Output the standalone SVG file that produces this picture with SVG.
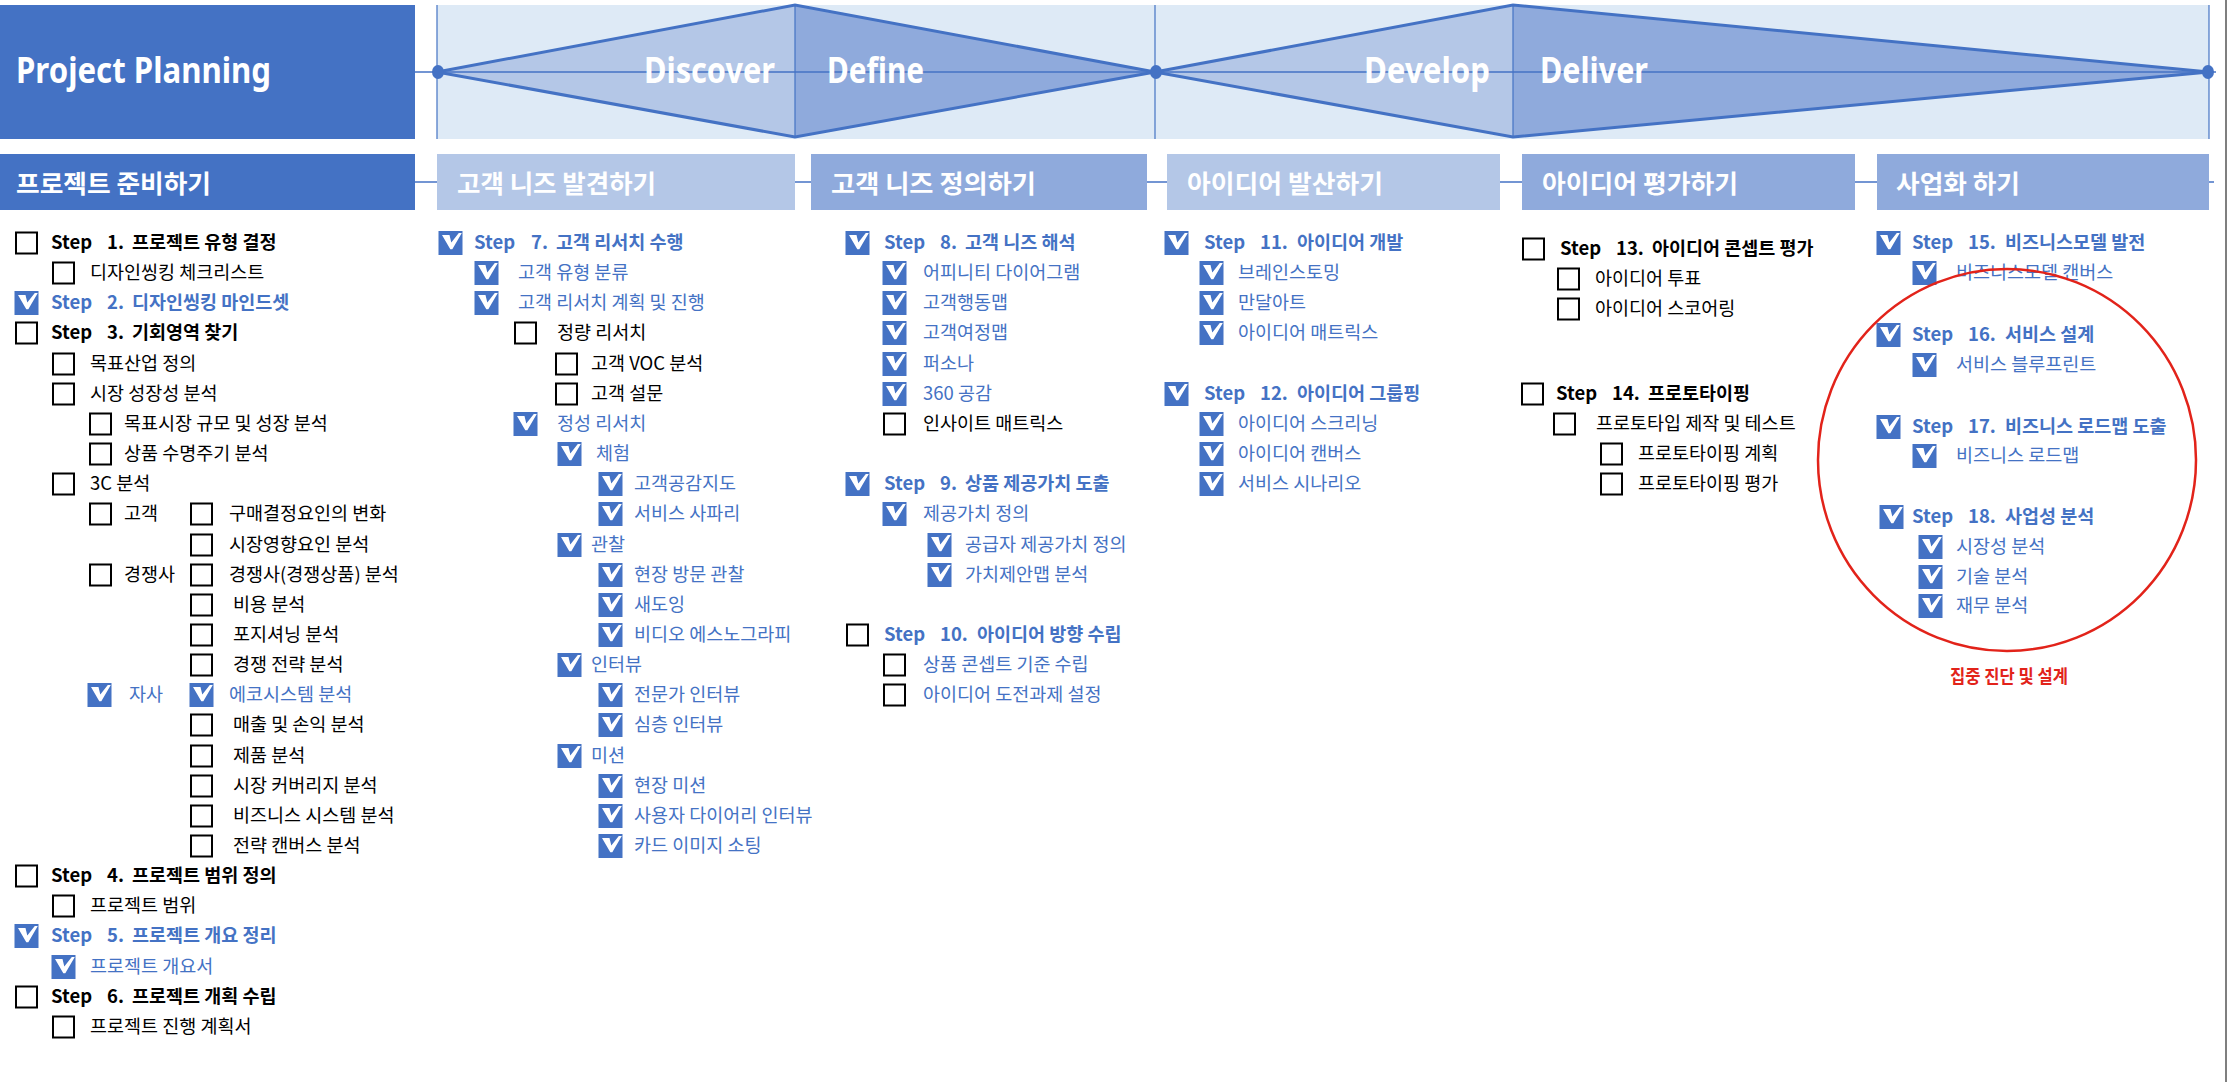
<svg xmlns="http://www.w3.org/2000/svg" xmlns:xlink="http://www.w3.org/1999/xlink" width="2238" height="1082" viewBox="0 0 2238 1082">
<style>
.t{font-family:"Noto Sans CJK KR","Noto Sans",sans-serif;font-size:18.5px;fill:#000}
.b{font-weight:700}
.bl{fill:#4472C4}
.hd{font-family:"Noto Sans CJK KR","Noto Sans",sans-serif;font-size:25px;font-weight:700;fill:#fff}
.ph{font-family:"Noto Sans","Noto Sans CJK KR",sans-serif;font-size:35px;font-weight:700;fill:#fff}
.ln{stroke:#4472C4;fill:none}
</style>
<defs>
<g id="ck"><rect x="-0.5" y="-0.5" width="24" height="24" fill="#4472C4"/><polygon points="3,3.5 10.5,3.5 12.3,11 19.8,1.5 22.8,1.5 13.3,17.8 11.3,17.8" fill="#fff"/></g>
<g id="cb"><rect x="1" y="1" width="21" height="21" fill="#fff" stroke="#000" stroke-width="2"/></g>
</defs>
<rect width="2238" height="1082" fill="#fff"/>
<line x1="2226" y1="0" x2="2226" y2="1082" stroke="#7f7f7f" stroke-width="2"/>

<g id="banner">
<rect x="437" y="5" width="1772" height="134" fill="#DEEAF6"/>
<polygon points="437,72 795,5 795,137" fill="#B4C7E7"/>
<polygon points="795,5 1155,72 795,137" fill="#8FAADC"/>
<polygon points="1155,72 1513,5 1513,137" fill="#B4C7E7"/>
<polygon points="1513,5 2209,72 1513,137" fill="#8FAADC"/>
<line class="ln" x1="437" y1="5" x2="437" y2="139" stroke-width="1.2"/>
<line class="ln" x1="795" y1="5" x2="795" y2="137" stroke-width="1.2"/>
<line class="ln" x1="1155" y1="5" x2="1155" y2="139" stroke-width="1.2"/>
<line class="ln" x1="1513" y1="5" x2="1513" y2="137" stroke-width="1.2"/>
<line class="ln" x1="2209" y1="5" x2="2209" y2="139" stroke-width="1.2"/>
<line class="ln" x1="415" y1="72" x2="2216" y2="72" stroke-width="1.5"/>
<polygon class="ln" points="437,72 795,5 1155,72 795,137" stroke-width="3"/>
<polygon class="ln" points="1155,72 1513,5 2209,72 1513,137" stroke-width="3"/>
<ellipse cx="438" cy="72" rx="6" ry="7" fill="#4472C4"/>
<ellipse cx="1156" cy="72" rx="6" ry="7" fill="#4472C4"/>
<ellipse cx="2208" cy="72" rx="6" ry="7" fill="#4472C4"/>
<text class="ph" x="775" y="83" text-anchor="end" textLength="131" lengthAdjust="spacingAndGlyphs">Discover</text>
<text class="ph" x="827" y="83" textLength="97" lengthAdjust="spacingAndGlyphs">Define</text>
<text class="ph" x="1364" y="83" textLength="126" lengthAdjust="spacingAndGlyphs">Develop</text>
<text class="ph" x="1540" y="83" textLength="108" lengthAdjust="spacingAndGlyphs">Deliver</text>
</g>
<g id="project-planning">
<rect x="0" y="5" width="415" height="134" fill="#4472C4"/>
<text class="ph" x="16" y="83" textLength="255" lengthAdjust="spacingAndGlyphs">Project Planning</text>
</g>

<g id="connectors">
<line class="ln" x1="415" y1="182" x2="2214" y2="182" stroke-width="1.5"/>
</g>

<g id="h1"><rect x="0" y="154" width="415" height="56" fill="#4472C4"/><text class="hd" x="16" y="193" textLength="195" lengthAdjust="spacingAndGlyphs">프로젝트 준비하기</text></g>
<g id="h2"><rect x="437" y="154" width="358" height="56" fill="#B4C7E7"/><text class="hd" x="457" y="193" textLength="199" lengthAdjust="spacingAndGlyphs">고객 니즈 발견하기</text></g>
<g id="h3"><rect x="811" y="154" width="336" height="56" fill="#8FAADC"/><text class="hd" x="831" y="193" textLength="205" lengthAdjust="spacingAndGlyphs">고객 니즈 정의하기</text></g>
<g id="h4"><rect x="1167" y="154" width="333" height="56" fill="#B4C7E7"/><text class="hd" x="1187" y="193" textLength="196" lengthAdjust="spacingAndGlyphs">아이디어 발산하기</text></g>
<g id="h5"><rect x="1522" y="154" width="333" height="56" fill="#8FAADC"/><text class="hd" x="1542" y="193" textLength="196" lengthAdjust="spacingAndGlyphs">아이디어 평가하기</text></g>
<g id="h6"><rect x="1877" y="154" width="332" height="56" fill="#8FAADC"/><text class="hd" x="1896" y="193" textLength="124" lengthAdjust="spacingAndGlyphs">사업화 하기</text></g>

<g id="col1">
<use href="#cb" x="15" y="231.5"/><text class="t b" y="249"><tspan x="51">Step</tspan><tspan x="107">1.</tspan><tspan x="132">프로젝트 유형 결정</tspan></text>
<use href="#cb" x="52" y="261.5"/><text class="t" x="90" y="279">디자인씽킹 체크리스트</text>
<use href="#ck" x="15" y="291.5"/><text class="t b bl" y="309"><tspan x="51">Step</tspan><tspan x="107">2.</tspan><tspan x="132">디자인씽킹 마인드셋</tspan></text>
<use href="#cb" x="15" y="321.5"/><text class="t b" y="339"><tspan x="51">Step</tspan><tspan x="107">3.</tspan><tspan x="132">기회영역 찾기</tspan></text>
<use href="#cb" x="52" y="352.5"/><text class="t" x="90" y="370">목표산업 정의</text>
<use href="#cb" x="52" y="382.5"/><text class="t" x="90" y="400">시장 성장성 분석</text>
<use href="#cb" x="89" y="412.5"/><text class="t" x="124" y="430">목표시장 규모 및 성장 분석</text>
<use href="#cb" x="89" y="442.5"/><text class="t" x="124" y="460">상품 수명주기 분석</text>
<use href="#cb" x="52" y="472.5"/><text class="t" x="90" y="490">3C 분석</text>
<use href="#cb" x="89" y="502.5"/><text class="t" x="124" y="520">고객</text>
<use href="#cb" x="190" y="502.5"/><text class="t" x="229" y="520">구매결정요인의 변화</text>
<use href="#cb" x="190" y="533.5"/><text class="t" x="229" y="551">시장영향요인 분석</text>
<use href="#cb" x="89" y="563.5"/><text class="t" x="124" y="581">경쟁사</text>
<use href="#cb" x="190" y="563.5"/><text class="t" x="229" y="581">경쟁사(경쟁상품) 분석</text>
<use href="#cb" x="190" y="593.5"/><text class="t" x="233" y="611">비용 분석</text>
<use href="#cb" x="190" y="623.5"/><text class="t" x="233" y="641">포지셔닝 분석</text>
<use href="#cb" x="190" y="653.5"/><text class="t" x="233" y="671">경쟁 전략 분석</text>
<use href="#ck" x="88" y="683.5"/><text class="t bl" x="129" y="701">자사</text>
<use href="#ck" x="190" y="683.5"/><text class="t bl" x="229" y="701">에코시스템 분석</text>
<use href="#cb" x="190" y="713.5"/><text class="t" x="233" y="731">매출 및 손익 분석</text>
<use href="#cb" x="190" y="744.5"/><text class="t" x="233" y="762">제품 분석</text>
<use href="#cb" x="190" y="774.5"/><text class="t" x="233" y="792">시장 커버리지 분석</text>
<use href="#cb" x="190" y="804.5"/><text class="t" x="233" y="822">비즈니스 시스템 분석</text>
<use href="#cb" x="190" y="834.5"/><text class="t" x="233" y="852">전략 캔버스 분석</text>
<use href="#cb" x="15" y="864.5"/><text class="t b" y="882"><tspan x="51">Step</tspan><tspan x="107">4.</tspan><tspan x="132">프로젝트 범위 정의</tspan></text>
<use href="#cb" x="52" y="894.5"/><text class="t" x="90" y="912">프로젝트 범위</text>
<use href="#ck" x="15" y="924.5"/><text class="t b bl" y="942"><tspan x="51">Step</tspan><tspan x="107">5.</tspan><tspan x="132">프로젝트 개요 정리</tspan></text>
<use href="#ck" x="52" y="955.5"/><text class="t bl" x="90" y="973">프로젝트 개요서</text>
<use href="#cb" x="15" y="985.5"/><text class="t b" y="1003"><tspan x="51">Step</tspan><tspan x="107">6.</tspan><tspan x="132">프로젝트 개획 수립</tspan></text>
<use href="#cb" x="52" y="1015.5"/><text class="t" x="90" y="1033">프로젝트 진행 계획서</text>
</g>

<g id="col2">
<use href="#ck" x="439" y="231.5"/><text class="t b bl" y="249"><tspan x="474">Step</tspan><tspan x="531">7.</tspan><tspan x="556">고객 리서치 수행</tspan></text>
<use href="#ck" x="475" y="261.5"/><text class="t bl" x="518" y="279">고객 유형 분류</text>
<use href="#ck" x="475" y="291.5"/><text class="t bl" x="518" y="309">고객 리서치 계획 및 진행</text>
<use href="#cb" x="514" y="321.5"/><text class="t" x="557" y="339">정량 리서치</text>
<use href="#cb" x="555" y="352.5"/><text class="t" x="591" y="370">고객 VOC 분석</text>
<use href="#cb" x="555" y="382.5"/><text class="t" x="591" y="400">고객 설문</text>
<use href="#ck" x="514" y="412.5"/><text class="t bl" x="557" y="430">정성 리서치</text>
<use href="#ck" x="558" y="442.5"/><text class="t bl" x="596" y="460">체험</text>
<use href="#ck" x="599" y="472.5"/><text class="t bl" x="634" y="490">고객공감지도</text>
<use href="#ck" x="599" y="502.5"/><text class="t bl" x="634" y="520">서비스 사파리</text>
<use href="#ck" x="558" y="533.5"/><text class="t bl" x="591" y="551">관찰</text>
<use href="#ck" x="599" y="563.5"/><text class="t bl" x="634" y="581">현장 방문 관찰</text>
<use href="#ck" x="599" y="593.5"/><text class="t bl" x="634" y="611">새도잉</text>
<use href="#ck" x="599" y="623.5"/><text class="t bl" x="634" y="641">비디오 에스노그라피</text>
<use href="#ck" x="558" y="653.5"/><text class="t bl" x="591" y="671">인터뷰</text>
<use href="#ck" x="599" y="683.5"/><text class="t bl" x="634" y="701">전문가 인터뷰</text>
<use href="#ck" x="599" y="713.5"/><text class="t bl" x="634" y="731">심층 인터뷰</text>
<use href="#ck" x="558" y="744.5"/><text class="t bl" x="591" y="762">미션</text>
<use href="#ck" x="599" y="774.5"/><text class="t bl" x="634" y="792">현장 미션</text>
<use href="#ck" x="599" y="804.5"/><text class="t bl" x="634" y="822">사용자 다이어리 인터뷰</text>
<use href="#ck" x="599" y="834.5"/><text class="t bl" x="634" y="852">카드 이미지 소팅</text>
</g>

<g id="col3">
<use href="#ck" x="846" y="231.5"/><text class="t b bl" y="249"><tspan x="884">Step</tspan><tspan x="940">8.</tspan><tspan x="965">고객 니즈 해석</tspan></text>
<use href="#ck" x="883" y="261.5"/><text class="t bl" x="923" y="279">어피니티 다이어그램</text>
<use href="#ck" x="883" y="291.5"/><text class="t bl" x="923" y="309">고객행동맵</text>
<use href="#ck" x="883" y="321.5"/><text class="t bl" x="923" y="339">고객여정맵</text>
<use href="#ck" x="883" y="352.5"/><text class="t bl" x="923" y="370">퍼소나</text>
<use href="#ck" x="883" y="382.5"/><text class="t bl" x="923" y="400">360 공감</text>
<use href="#cb" x="883" y="412.5"/><text class="t" x="923" y="430">인사이트 매트릭스</text>
<use href="#ck" x="846" y="472.5"/><text class="t b bl" y="490"><tspan x="884">Step</tspan><tspan x="940">9.</tspan><tspan x="965">상품 제공가치 도출</tspan></text>
<use href="#ck" x="883" y="502.5"/><text class="t bl" x="923" y="520">제공가치 정의</text>
<use href="#ck" x="928" y="533.5"/><text class="t bl" x="965" y="551">공급자 제공가치 정의</text>
<use href="#ck" x="928" y="563.5"/><text class="t bl" x="965" y="581">가치제안맵 분석</text>
<use href="#cb" x="846" y="623.5"/><text class="t b bl" y="641"><tspan x="884">Step</tspan><tspan x="940">10.</tspan><tspan x="977">아이디어 방향 수립</tspan></text>
<use href="#cb" x="883" y="653.5"/><text class="t bl" x="923" y="671">상품 콘셉트 기준 수립</text>
<use href="#cb" x="883" y="683.5"/><text class="t bl" x="923" y="701">아이디어 도전과제 설정</text>
</g>

<g id="col4">
<use href="#ck" x="1165" y="231.5"/><text class="t b bl" y="249"><tspan x="1204">Step</tspan><tspan x="1260">11.</tspan><tspan x="1297">아이디어 개발</tspan></text>
<use href="#ck" x="1200" y="261.5"/><text class="t bl" x="1238" y="279">브레인스토밍</text>
<use href="#ck" x="1200" y="291.5"/><text class="t bl" x="1238" y="309">만달아트</text>
<use href="#ck" x="1200" y="321.5"/><text class="t bl" x="1238" y="339">아이디어 매트릭스</text>
<use href="#ck" x="1165" y="382.5"/><text class="t b bl" y="400"><tspan x="1204">Step</tspan><tspan x="1260">12.</tspan><tspan x="1297">아이디어 그룹핑</tspan></text>
<use href="#ck" x="1200" y="412.5"/><text class="t bl" x="1238" y="430">아이디어 스크리닝</text>
<use href="#ck" x="1200" y="442.5"/><text class="t bl" x="1238" y="460">아이디어 캔버스</text>
<use href="#ck" x="1200" y="472.5"/><text class="t bl" x="1238" y="490">서비스 시나리오</text>
</g>

<g id="col5">
<use href="#cb" x="1522" y="237.5"/><text class="t b" y="255"><tspan x="1560">Step</tspan><tspan x="1616">13.</tspan><tspan x="1652">아이디어 콘셉트 평가</tspan></text>
<use href="#cb" x="1557" y="267.5"/><text class="t" x="1595" y="285">아이디어 투표</text>
<use href="#cb" x="1557" y="297.5"/><text class="t" x="1595" y="315">아이디어 스코어링</text>
<use href="#cb" x="1521" y="382.5"/><text class="t b" y="400"><tspan x="1556">Step</tspan><tspan x="1612">14.</tspan><tspan x="1648">프로토타이핑</tspan></text>
<use href="#cb" x="1553" y="412.5"/><text class="t" x="1596" y="430">프로토타입 제작 및 테스트</text>
<use href="#cb" x="1600" y="442.5"/><text class="t" x="1638" y="460">프로토타이핑 계획</text>
<use href="#cb" x="1600" y="472.5"/><text class="t" x="1638" y="490">프로토타이핑 평가</text>
</g>

<g id="col6">
<use href="#ck" x="1877" y="231.5"/><text class="t b bl" y="249"><tspan x="1912">Step</tspan><tspan x="1968">15.</tspan><tspan x="2005">비즈니스모델 발전</tspan></text>
<use href="#ck" x="1913" y="261.5"/><text class="t bl" x="1956" y="279">비즈니스모델 캔버스</text>
<use href="#ck" x="1877" y="323.5"/><text class="t b bl" y="341"><tspan x="1912">Step</tspan><tspan x="1968">16.</tspan><tspan x="2005">서비스 설계</tspan></text>
<use href="#ck" x="1913" y="353.5"/><text class="t bl" x="1956" y="371">서비스 블루프린트</text>
<use href="#ck" x="1877" y="415.5"/><text class="t b bl" y="433"><tspan x="1912">Step</tspan><tspan x="1968">17.</tspan><tspan x="2005">비즈니스 로드맵 도출</tspan></text>
<use href="#ck" x="1913" y="444.5"/><text class="t bl" x="1956" y="462">비즈니스 로드맵</text>
<use href="#ck" x="1880" y="505.5"/><text class="t b bl" y="523"><tspan x="1912">Step</tspan><tspan x="1968">18.</tspan><tspan x="2005">사업성 분석</tspan></text>
<use href="#ck" x="1919" y="535.5"/><text class="t bl" x="1956" y="553">시장성 분석</text>
<use href="#ck" x="1919" y="565.5"/><text class="t bl" x="1956" y="583">기술 분석</text>
<use href="#ck" x="1919" y="594.5"/><text class="t bl" x="1956" y="612">재무 분석</text>
</g>

<g id="focus">
<ellipse cx="2007" cy="460" rx="189" ry="191" fill="none" stroke="#E2231A" stroke-width="2.5"/>
<text class="t b" x="1950" y="683" style="fill:#E2231A" textLength="118" lengthAdjust="spacingAndGlyphs">집중 진단 및 설계</text>
</g>
</svg>
